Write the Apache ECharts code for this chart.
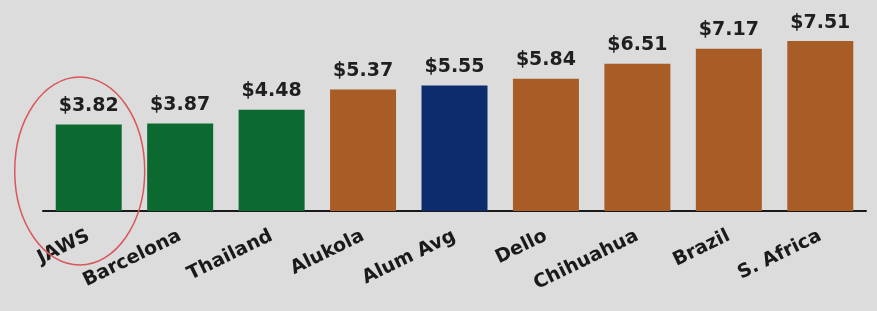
<!DOCTYPE html>
<html><head><meta charset="utf-8">
<script src="https://cdn.jsdelivr.net/npm/echarts@6/dist/echarts.min.js"></script>
<style>html,body{margin:0;padding:0;background:#dcdcdc;}#c{width:877px;height:311px;}</style>
</head><body><div id="c"></div>
<script>
const categories = ['JAWS','Barcelona','Thailand','Alukola','Alum Avg','Dello','Chihuahua','Brazil','S. Africa'];
const values = [3.82, 3.87, 4.48, 5.37, 5.55, 5.84, 6.51, 7.17, 7.51];
const groups = ['green','green','green','orange','blue','orange','orange','orange','orange'];
const palette = {green:'#0c6a30', orange:'#a85d27', blue:'#0c2c6e'};

const chart = echarts.init(document.getElementById('c'));
chart.setOption({
  backgroundColor: '#dcdcdc',
  animation: false,
  grid: {left: 43, right: 11, top: 30, bottom: 100},
  xAxis: {
    type: 'category', data: categories,
    axisLine: {lineStyle: {color: '#1a1a1a', width: 2}},
    axisTick: {show: false},
    axisLabel: {rotate: 26, color: '#1a1a1a', fontFamily: 'DejaVu Sans', fontWeight: 'bold', fontSize: 19, margin: 24, interval: 0}
  },
  yAxis: {type: 'value', min: 0, max: 8, show: false, splitLine: {show: false}},
  series: [{
    type: 'bar', barWidth: 66,
    data: values.map((v, i) => ({value: v, itemStyle: {color: palette[groups[i]]}})),
    label: {show: true, position: 'top', distance: 9, formatter: p => '$' + p.value.toFixed(2),
      color: '#1f1f1f', fontFamily: 'DejaVu Sans', fontWeight: 'bold', fontSize: 19}
  }]
});
const p = chart.convertToPixel({seriesIndex: 0}, [0, 0]);
chart.setOption({graphic: [{
  type: 'ellipse', shape: {cx: p[0] - 9, cy: p[1] - 40, rx: 65, ry: 94},
  style: {fill: 'none', stroke: '#d9575c', lineWidth: 1.5}, z: 100
}]});
</script></body></html>
